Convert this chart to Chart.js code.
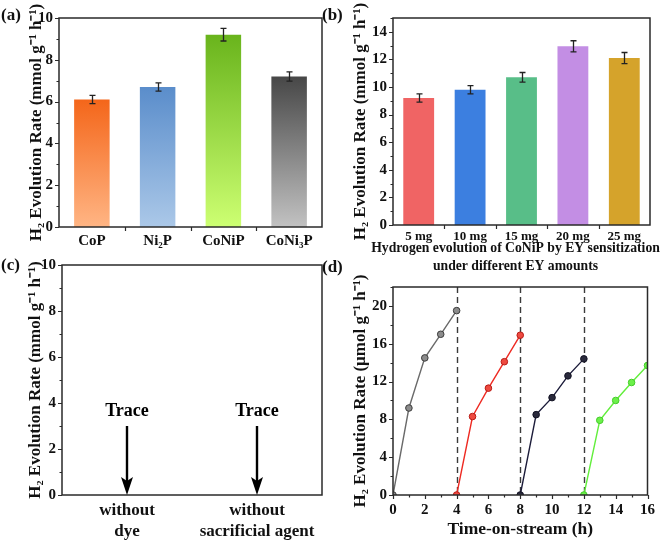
<!DOCTYPE html>
<html><head><meta charset="utf-8">
<script src="https://cdn.jsdelivr.net/npm/chart.js@4"></script>
<style>
body{margin:0;background:#fff;width:661px;height:544px;position:relative;overflow:hidden}
canvas{position:absolute}
.lbl{position:absolute;font:bold 17px 'Liberation Serif','Times New Roman',serif;color:#111;line-height:20px}
</style></head><body>
<canvas id="ca" width="330" height="272" style="left:0;top:0"></canvas>
<canvas id="cb" width="331" height="276" style="left:330px;top:0"></canvas>
<canvas id="cc" width="330" height="294" style="left:0;top:250px"></canvas>
<canvas id="cd" width="331" height="272" style="left:330px;top:272px"></canvas>
<div class="lbl" style="left:1px;top:5px">(a)</div>
<div class="lbl" style="left:322px;top:5px">(b)</div>
<div class="lbl" style="left:1px;top:255px">(c)</div>
<div class="lbl" style="left:322px;top:257px">(d)</div>
<script>
// ---------- data ----------
const catA = ['CoP', 'Ni₂P', 'CoNiP', 'CoNi₃P'];
const valA = [6.1, 6.7, 9.2, 7.2];
const errA = [0.2, 0.2, 0.3, 0.22];

const catB = ['5 mg', '10 mg', '15 mg', '20 mg', '25 mg'];
const valB = [9.2, 9.8, 10.7, 12.95, 12.1];
const errB = [0.3, 0.3, 0.35, 0.4, 0.4];
const titleB = ['Hydrogen evolution of CoNiP by EY sensitization', 'under different EY amounts'];

const catC = [['without', 'dye'], ['without', 'sacrificial agent']];
const traceC = [3, 3];
const traceText = ['Trace', 'Trace'];

const run1T = [0, 1, 2, 3, 4];    const run1 = [0, 9.2, 14.5, 17.0, 19.5];
const run2T = [4, 5, 6, 7, 8];    const run2 = [0, 8.3, 11.3, 14.1, 16.9];
const run3T = [8, 9, 10, 11, 12]; const run3 = [0, 8.5, 10.3, 12.6, 14.4];
const run4T = [12, 13, 14, 15, 16]; const run4 = [0, 7.9, 10.0, 11.9, 13.7];
const cycleMarks = [4, 8, 12];

// ---------- styles ----------
const SERIF = "'Liberation Serif','Times New Roman',serif";
const gradTop = ['#f4661a', '#5a8dcb', '#69b41c', '#474747'];
const gradBot = ['#ffb584', '#abc8e8', '#cdff72', '#c2c2c2'];
const colB = ['#f06464', '#3c7fe0', '#58be88', '#c38ee4', '#d5a32b'];
const yTitle = 'H₂ Evolution Rate (mmol g⁻¹ h⁻¹)';

Chart.defaults.animation = false;
Chart.defaults.color = '#111';
Chart.defaults.font.family = SERIF;
Chart.defaults.font.weight = 'bold';

const frame = {
  id: 'frame',
  afterDraw(chart, args, o) {
    const {ctx, chartArea: a, scales: {x, y}} = chart;
    ctx.save();
    ctx.strokeStyle = '#2a2a2a';
    ctx.lineWidth = 1.2;
    ctx.beginPath();
    for (let v = y.min; v <= y.max + 1e-9; v += o.yMinor) {
      const p = Math.round(y.getPixelForValue(v)) + 0.5;
      const r = v / o.yMajor;
      const len = Math.abs(r - Math.round(r)) < 1e-6 ? 4 : 2.5;
      ctx.moveTo(a.left, p); ctx.lineTo(a.left - len, p);
    }
    if (o.xMinor) {
      for (let v = x.min; v <= x.max + 1e-9; v += o.xMinor) {
        const p = Math.round(x.getPixelForValue(v)) + 0.5;
        const r = v / o.xMajor;
        const len = Math.abs(r - Math.round(r)) < 1e-6 ? 4 : 2.5;
        ctx.moveTo(p, a.bottom); ctx.lineTo(p, a.bottom + len);
      }
    } else if (o.xCat) {
      const n = chart.data.labels.length;
      const half = (x.getPixelForValue(1) - x.getPixelForValue(0)) / 2;
      for (let i = 1; i < n; i++) {
        const p = Math.round(x.getPixelForValue(i) - half) + 0.5;
        ctx.moveTo(p, a.bottom); ctx.lineTo(p, a.bottom + 4);
      }
    }
    ctx.stroke();
    ctx.lineWidth = 1.5;
    ctx.strokeRect(a.left, a.top, a.right - a.left, a.bottom - a.top);
    if (o.xTitle) {
      ctx.fillStyle = '#111';
      ctx.font = 'bold ' + o.xTitleSize + 'px ' + SERIF;
      ctx.textAlign = 'center';
      ctx.textBaseline = 'middle';
      const cx = (a.left + a.right) / 2 + o.xTitleShift;
      o.xTitle.forEach((t, i) => ctx.fillText(t, cx, a.bottom + o.xTitleOffset + i * o.xTitleGap));
    }
    ctx.restore();
  }
};

const errbars = {
  id: 'errbars',
  afterDatasetsDraw(chart, args, o) {
    if (!o.err) return;
    const {ctx, scales: {x, y}} = chart;
    const vals = chart.data.datasets[0].data;
    ctx.save();
    ctx.strokeStyle = '#222';
    ctx.lineWidth = 1.3;
    ctx.beginPath();
    o.err.forEach((e, i) => {
      const px = Math.round(x.getPixelForValue(i)) + 0.5;
      const y1 = y.getPixelForValue(vals[i] + e);
      const y2 = y.getPixelForValue(vals[i] - e);
      ctx.moveTo(px, y1); ctx.lineTo(px, y2);
      ctx.moveTo(px - 3, y1); ctx.lineTo(px + 3, y1);
      ctx.moveTo(px - 3, y2); ctx.lineTo(px + 3, y2);
    });
    ctx.stroke();
    ctx.restore();
  }
};

const vlines = {
  id: 'vlines',
  beforeDatasetsDraw(chart, args, o) {
    if (!o.at) return;
    const {ctx, chartArea: a, scales: {x}} = chart;
    ctx.save();
    ctx.strokeStyle = '#3a3a3a';
    ctx.lineWidth = 1.4;
    ctx.setLineDash([6, 4]);
    ctx.beginPath();
    o.at.forEach(v => {
      const p = Math.round(x.getPixelForValue(v)) + 0.5;
      ctx.moveTo(p, a.top); ctx.lineTo(p, a.bottom);
    });
    ctx.stroke();
    ctx.restore();
  }
};

const arrows = {
  id: 'arrows',
  afterDraw(chart, args, o) {
    if (!o.from) return;
    const {ctx, scales: {x, y}} = chart;
    ctx.save();
    ctx.strokeStyle = '#000';
    ctx.fillStyle = '#000';
    o.from.forEach((v, i) => {
      const px = x.getPixelForValue(i);
      const top = y.getPixelForValue(v);
      const tip = y.getPixelForValue(0);
      ctx.lineWidth = 2.4;
      ctx.beginPath();
      ctx.moveTo(px, top); ctx.lineTo(px, tip - 12);
      ctx.stroke();
      ctx.beginPath();
      ctx.moveTo(px - 6, tip - 18);
      ctx.lineTo(px, tip - 14);
      ctx.lineTo(px + 6, tip - 18);
      ctx.lineTo(px, tip);
      ctx.closePath();
      ctx.fill();
      ctx.font = 'bold 18px ' + SERIF;
      ctx.textAlign = 'center';
      ctx.textBaseline = 'middle';
      ctx.fillText(o.text[i], px, top - 15);
    });
    ctx.restore();
  }
};

Chart.register(frame, errbars, vlines, arrows);

function yScale(max, w, majorStep) {
  return {
    min: 0, max: max,
    afterFit: s => { s.width = w; },
    grid: {display: false, drawTicks: false},
    border: {display: false},
    ticks: {stepSize: 1, autoSkip: false, padding: 6, font: {size: 15, weight: 'bold'},
      callback: v => (Math.abs(v % majorStep) < 1e-9 ? String(v) : '')},
    title: {display: true, text: yTitle, padding: 0, font: {size: 17, weight: 'bold'}}
  };
}
const basePlugins = {legend: {display: false}, tooltip: {enabled: false}};

// ---------- (a) ----------
new Chart(document.getElementById('ca'), {
  type: 'bar',
  data: {labels: catA, datasets: [{data: valA, categoryPercentage: 1, barPercentage: 0.54,
    backgroundColor: c => {
      const ch = c.chart, a = ch.chartArea, i = c.dataIndex;
      if (!a || i === undefined) return gradTop[0];
      const g = ch.ctx.createLinearGradient(0, ch.scales.y.getPixelForValue(valA[i]), 0, a.bottom);
      g.addColorStop(0, gradTop[i]); g.addColorStop(1, gradBot[i]);
      return g;
    }}]},
  options: {
    responsive: false,
    layout: {padding: {left: 26, right: 8, top: 18, bottom: 0}},
    scales: {
      x: {afterFit: s => { s.height = 45; }, grid: {display: false, drawTicks: false}, border: {display: false},
        ticks: {padding: 5, font: {size: 15, weight: 'bold'}}},
      y: yScale(10, 33, 2)
    },
    plugins: Object.assign({}, basePlugins, {frame: {yMinor: 1, yMajor: 2, xCat: true}, errbars: {err: errA}})
  }
});

// ---------- (b) ----------
new Chart(document.getElementById('cb'), {
  type: 'bar',
  data: {labels: catB, datasets: [{data: valB, categoryPercentage: 1, barPercentage: 0.6, backgroundColor: colB}]},
  options: {
    responsive: false,
    layout: {padding: {left: 20, right: 11, top: 18, bottom: 0}},
    scales: {
      x: {afterFit: s => { s.height = 51; }, grid: {display: false, drawTicks: false}, border: {display: false},
        ticks: {padding: 4, font: {size: 13, weight: 'bold'}}},
      y: yScale(15, 43, 2)
    },
    plugins: Object.assign({}, basePlugins, {
      frame: {yMinor: 1, yMajor: 2, xCat: true, xTitle: titleB, xTitleSize: 13.7, xTitleOffset: 23, xTitleGap: 18, xTitleShift: -6},
      errbars: {err: errB}})
  }
});

// ---------- (c) ----------
new Chart(document.getElementById('cc'), {
  type: 'bar',
  data: {labels: catC, datasets: [{data: [0, 0], backgroundColor: 'rgba(0,0,0,0)'}]},
  options: {
    responsive: false,
    layout: {padding: {left: 25, right: 8, top: 15, bottom: 0}},
    scales: {
      x: {afterFit: s => { s.height = 49; }, grid: {display: false, drawTicks: false}, border: {display: false},
        ticks: {padding: 5, font: {size: 17, weight: 'bold', lineHeight: 1.25}}},
      y: yScale(10, 37, 2)
    },
    plugins: Object.assign({}, basePlugins, {frame: {yMinor: 1, yMajor: 2}, arrows: {from: traceC, text: traceText}})
  }
});

// ---------- (d) ----------
const pts = (t, v) => t.map((tt, i) => ({x: tt, y: v[i]}));
const lineDs = (t, v, line, fill, border) => ({
  data: pts(t, v), borderColor: line, borderWidth: 1.4, pointRadius: 3.3,
  pointBackgroundColor: fill, pointBorderColor: border, pointBorderWidth: 1, tension: 0
});
new Chart(document.getElementById('cd'), {
  type: 'line',
  data: {datasets: [
    lineDs(run1T, run1, '#6a6a6a', '#8c8c8c', '#3c3c3c'),
    lineDs(run2T, run2, '#ee2a22', '#ee4a40', '#b81c16'),
    lineDs(run3T, run3, '#1c1c3a', '#2a2a3c', '#111122'),
    lineDs(run4T, run4, '#62ee3c', '#6cf04a', '#44cc2a')
  ]},
  options: {
    responsive: false,
    layout: {padding: {left: 20, right: 13, top: 15, bottom: 4}},
    scales: {
      x: {type: 'linear', min: 0, max: 16, afterFit: s => { s.height = 45; },
        grid: {display: false, drawTicks: false}, border: {display: false},
        ticks: {stepSize: 1, autoSkip: false, maxRotation: 0, padding: 6, font: {size: 15, weight: 'bold'},
          callback: v => (v % 2 === 0 ? String(v) : '')},
        title: {display: true, text: 'Time-on-stream (h)', padding: 0, font: {size: 17.5, weight: 'bold'}}},
      y: Object.assign(yScale(22, 43, 4), {
        ticks: {stepSize: 2, autoSkip: false, padding: 6, font: {size: 15, weight: 'bold'},
          callback: v => (v % 4 === 0 ? String(v) : '')},
        title: {display: true, text: 'H₂ Evolution Rate (μmol g⁻¹ h⁻¹)', padding: 0, font: {size: 17, weight: 'bold'}}
      })
    },
    plugins: Object.assign({}, basePlugins, {frame: {yMinor: 2, yMajor: 4, xMinor: 1, xMajor: 2}, vlines: {at: cycleMarks}})
  }
});
</script>
</body></html>
